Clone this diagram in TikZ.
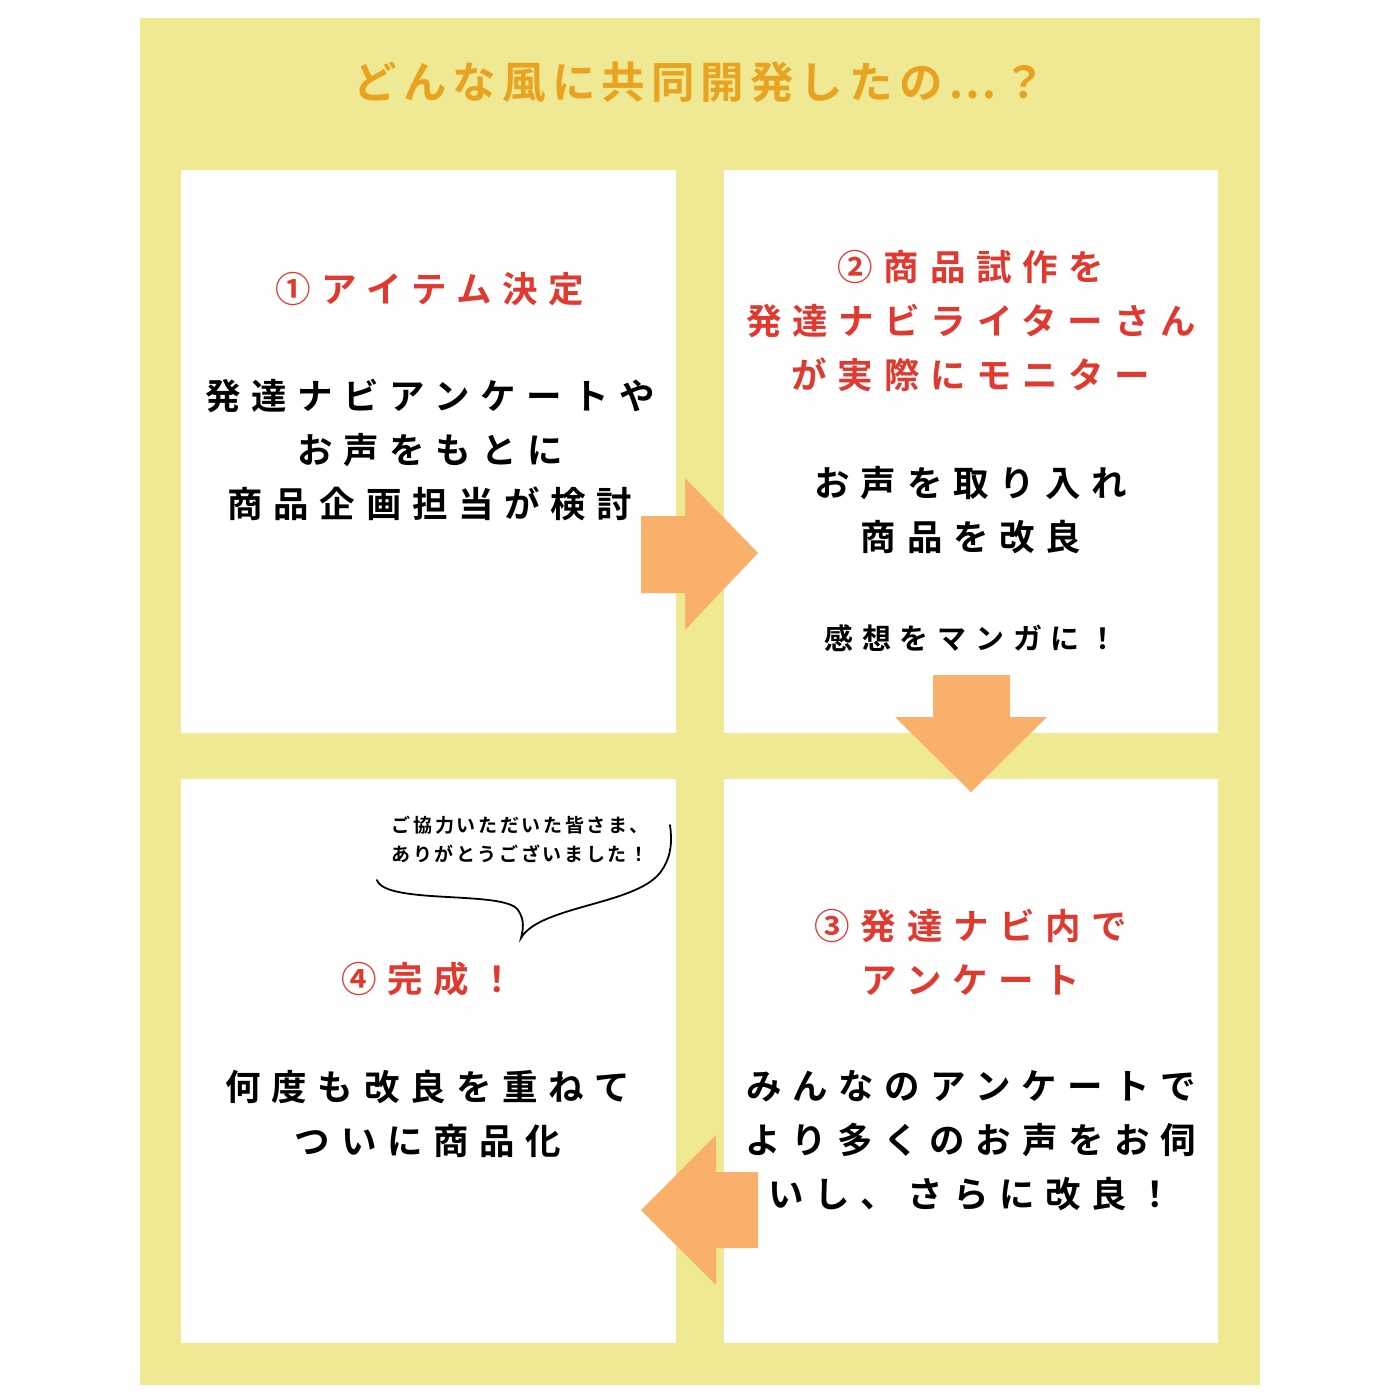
\documentclass[tikz,border=0pt]{standalone}
\usepackage{fontspec}
\newfontfamily\jp[LetterSpace=30]{Noto Sans CJK JP Bold}
\newfontfamily\jpt[LetterSpace=14]{Noto Sans CJK JP Bold}
\begin{document}
\begin{tikzpicture}[x=1pt,y=-1pt]
\definecolor{bgy}{HTML}{F0E994}
\definecolor{ttl}{HTML}{E8A320}
\definecolor{hred}{HTML}{E03A30}
\definecolor{arr}{HTML}{F8B06A}
\tikzset{panel/.style={fill=white,draw=none},
 head/.style={text=hred,font=\jp\fontsize{35.5}{54}\selectfont,align=center},
 body/.style={text=black,font=\jp\fontsize{35.5}{54}\selectfont,align=center},
 arrowshape/.style={fill=arr,draw=none}}
\useasboundingbox (0,0) rectangle (1400,1400);
\fill[white] (0,0) rectangle (1400,1400);
\fill[bgy] (140,18) rectangle (1260,1385);
\node[text=ttl,font=\jpt\fontsize{43.5}{50}\selectfont] (title) at (700,82) {どんな風に共同開発したの…？};
\fill[panel] (181,170) rectangle (676,733);
\fill[panel] (724,170) rectangle (1218,733);
\fill[panel] (181,779) rectangle (676,1343);
\fill[panel] (724,779) rectangle (1218,1343);
% arrows
\fill[arrowshape] (641,516) -- (685,516) -- (685,478) -- (758,553) -- (685,630) -- (685,593) -- (641,593) -- cycle;
\fill[arrowshape] (933,675) -- (1010,675) -- (1010,717) -- (1047,717) -- (971,792) -- (895,717) -- (933,717) -- cycle;
\fill[arrowshape] (758,1172) -- (716,1172) -- (716,1135) -- (641,1210) -- (716,1285) -- (716,1248) -- (758,1248) -- cycle;
% box1
\node[head] (h1) at (430,289) {①アイテム決定};
\node[body] (b1) at (430,450) {発達ナビアンケートや\\お声をもとに\\商品企画担当が検討};
% box2
\node[head] (h2) at (971,321) {②商品試作を\\発達ナビライターさん\\が実際にモニター};
\node[body] (b2) at (971,510) {お声を取り入れ\\商品を改良};
\node[body,font=\jp\fontsize{29}{40}\selectfont] (m2) at (971,638) {感想をマンガに！};
% box3
\node[head] (h3) at (971,952) {③発達ナビ内で\\アンケート};
\node[body] (b3) at (971,1141) {みんなのアンケートで\\より多くのお声をお伺\\いし、さらに改良！};
% box4
\node[head] (h4) at (428,979) {④完成！};
\node[body] (b4) at (428,1114) {何度も改良を重ねて\\ついに商品化};
\node[body,font=\jpt\fontsize{19}{29}\selectfont] (sp) at (520,839) {ご協力いただいた皆さま、\\ありがとうございました！};
\draw[line width=1.8pt,line cap=round] (377,880) .. controls (385,905) and (505,890) .. (518,910) .. controls (525,920) and (523,930) .. (521,938) .. controls (540,905) and (640,905) .. (662,870) .. controls (672,855) and (672,840) .. (670,825);
\end{tikzpicture}
\end{document}
